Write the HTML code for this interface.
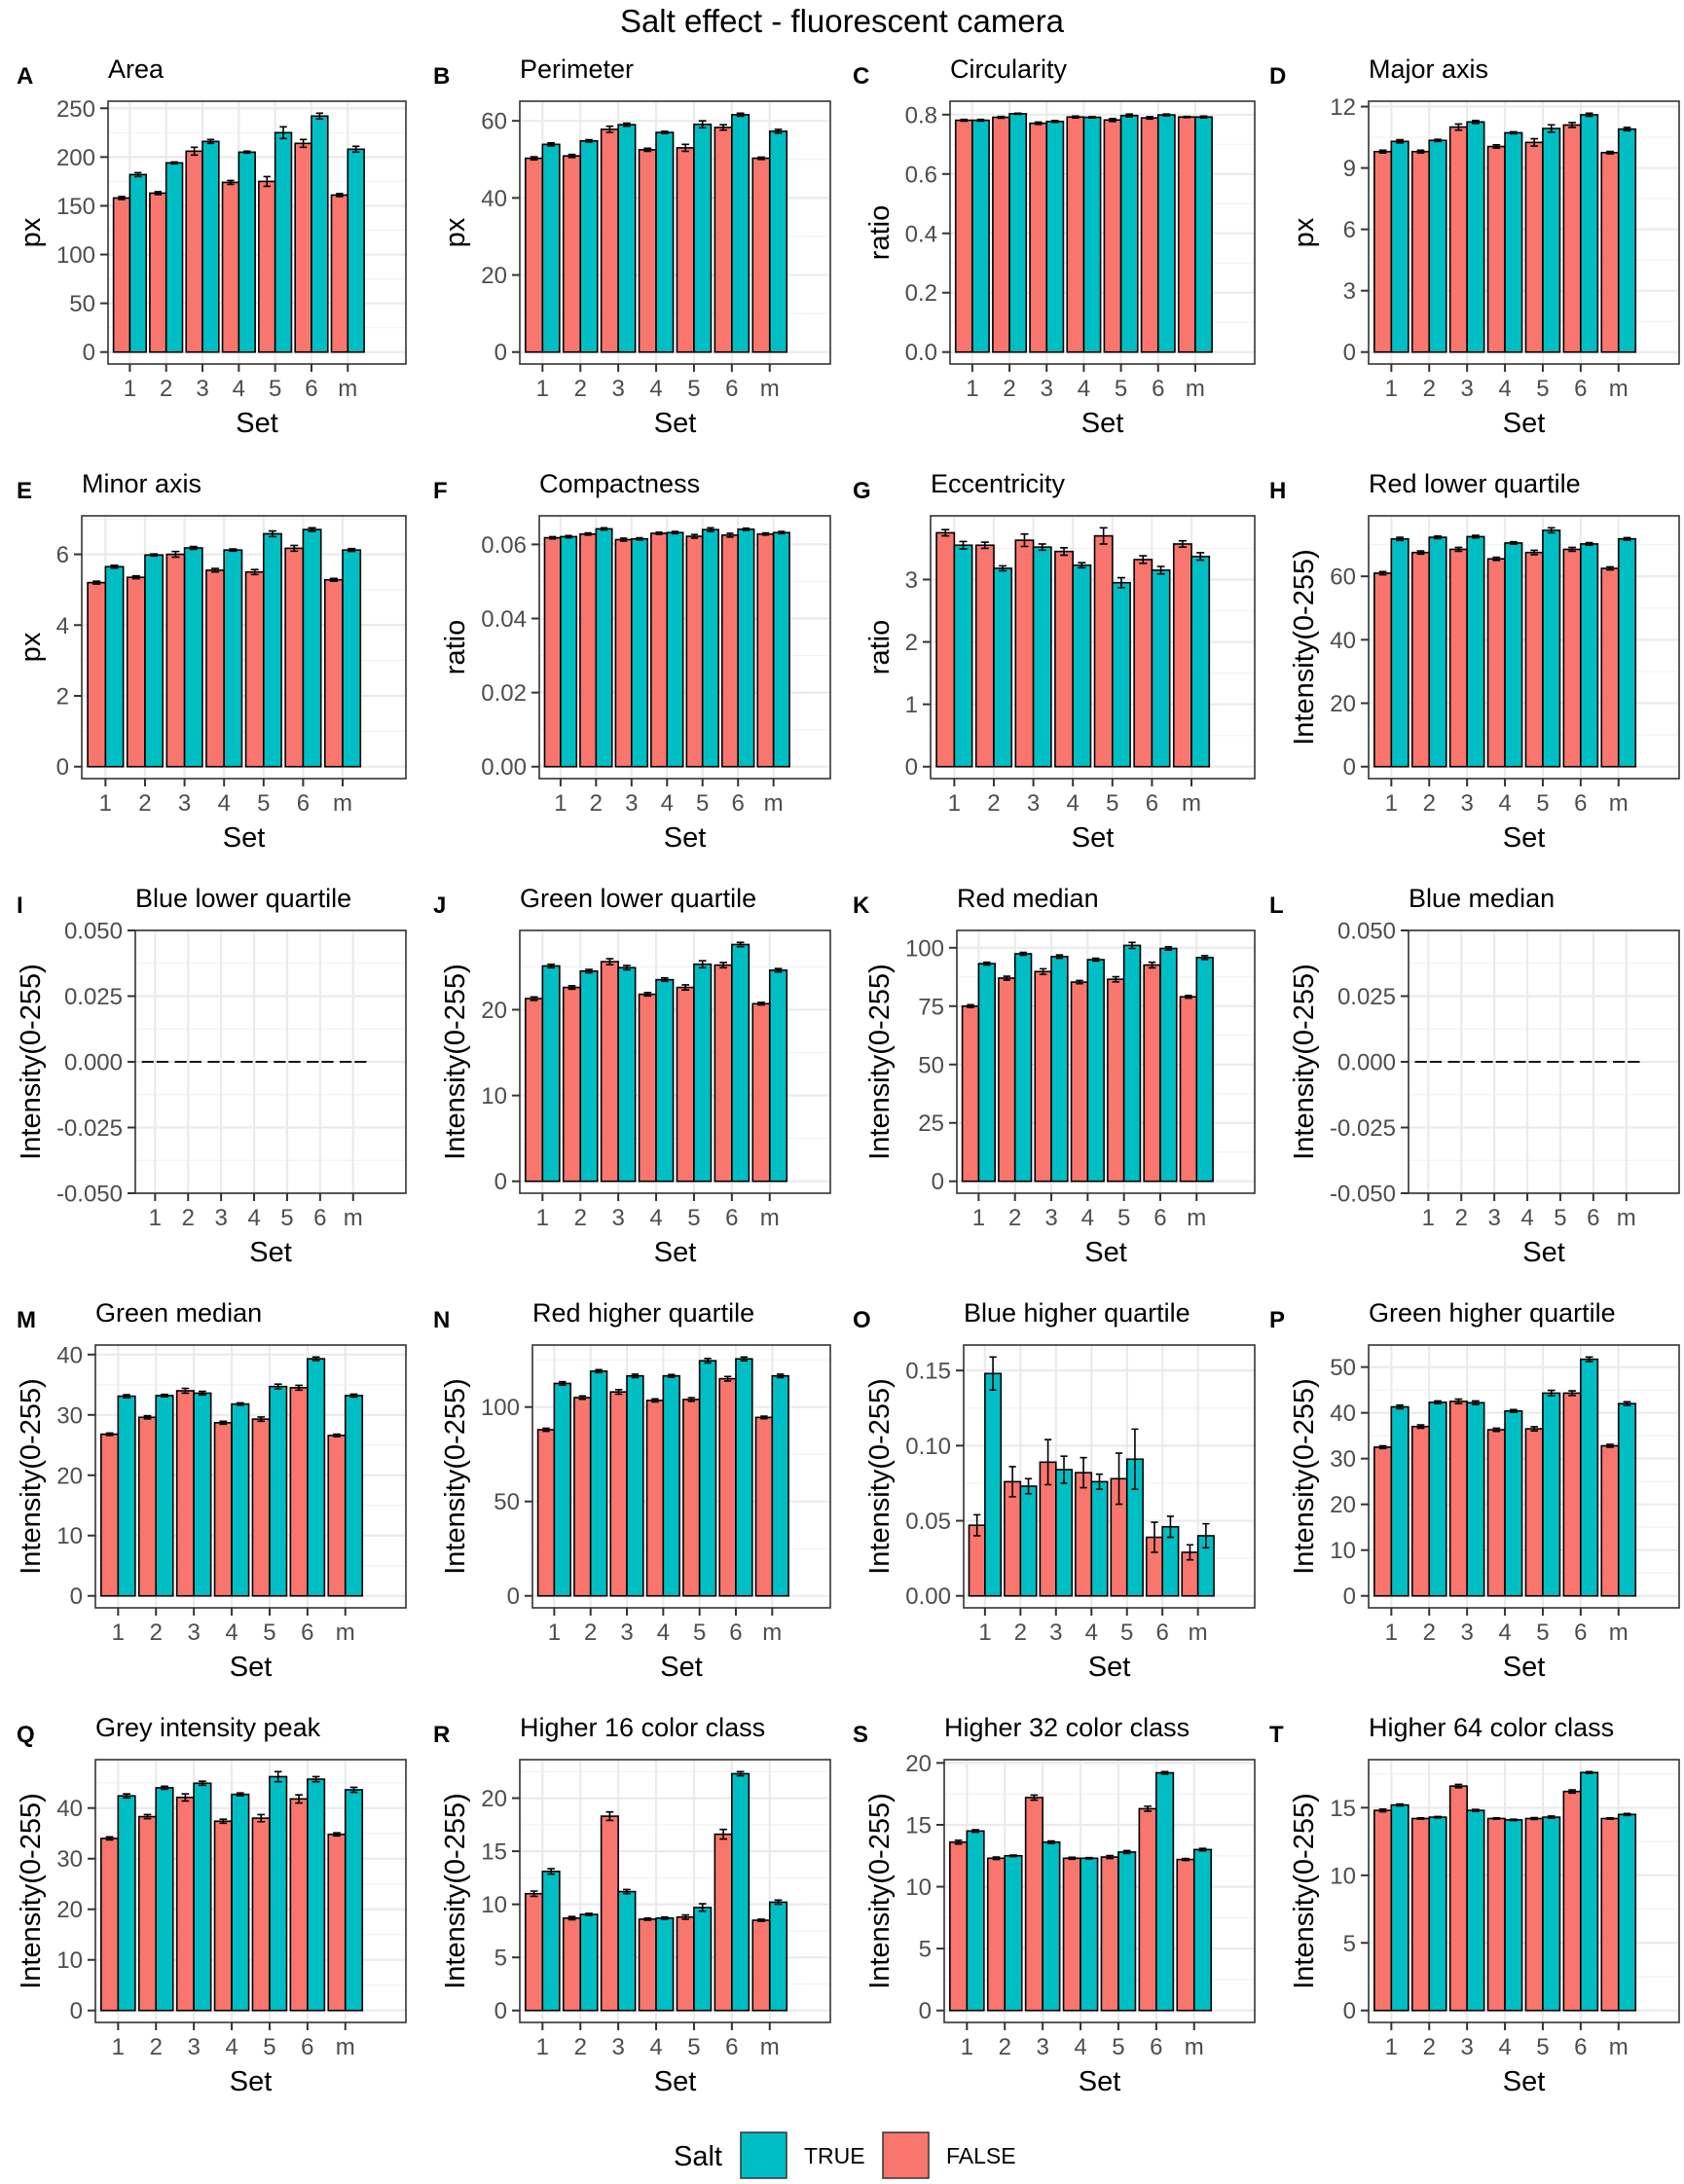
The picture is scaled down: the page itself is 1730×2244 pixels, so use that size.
<!DOCTYPE html>
<html><head><meta charset="utf-8">
<style>
html,body{margin:0;padding:0;background:#fff;}
svg{display:block;font-family:"Liberation Sans",sans-serif;}
</style></head>
<body>
<svg id="fig" width="1730" height="2244" viewBox="0 0 1730 2244" xmlns="http://www.w3.org/2000/svg">
<rect x="0" y="0" width="1730" height="2244" fill="#fff"/>
<text x="865" y="33" font-size="33" text-anchor="middle" fill="#000">Salt effect - fluorescent camera</text>
<g>
<text x="692" y="2225" font-size="29" fill="#000">Salt</text>
<rect x="761" y="2191" width="47" height="47" fill="#00BFC4" stroke="#333" stroke-width="1.5"/>
<text x="826" y="2223" font-size="23" fill="#000">TRUE</text>
<rect x="907" y="2191" width="47" height="47" fill="#F8766D" stroke="#333" stroke-width="1.5"/>
<text x="972" y="2223" font-size="23" fill="#000">FALSE</text>
</g>
</svg>
<script>
const categories = ["1","2","3","4","5","6","m"];
const panelLetters = ["A","B","C","D","E","F","G","H","I","J","K","L","M","N","O","P","Q","R","S","T"];
const panelTitles = ["Area","Perimeter","Circularity","Major axis","Minor axis","Compactness","Eccentricity","Red lower quartile","Blue lower quartile","Green lower quartile","Red median","Blue median","Green median","Red higher quartile","Blue higher quartile","Green higher quartile","Grey intensity peak","Higher 16 color class","Higher 32 color class","Higher 64 color class"];
const yTitles = ["px","px","ratio","px","px","ratio","ratio","Intensity(0-255)","Intensity(0-255)","Intensity(0-255)","Intensity(0-255)","Intensity(0-255)","Intensity(0-255)","Intensity(0-255)","Intensity(0-255)","Intensity(0-255)","Intensity(0-255)","Intensity(0-255)","Intensity(0-255)","Intensity(0-255)"];
const yTicks = [
 [0,50,100,150,200,250],[0,20,40,60],[0,0.2,0.4,0.6,0.8],[0,3,6,9,12],
 [0,2,4,6],[0,0.02,0.04,0.06],[0,1,2,3],[0,20,40,60],
 [-0.05,-0.025,0,0.025,0.05],[0,10,20],[0,25,50,75,100],[-0.05,-0.025,0,0.025,0.05],
 [0,10,20,30,40],[0,50,100],[0,0.05,0.10,0.15],[0,10,20,30,40,50],
 [0,10,20,30,40],[0,5,10,15,20],[0,5,10,15,20],[0,5,10,15]];
const yTickLabels = [
 ["0","50","100","150","200","250"],["0","20","40","60"],["0.0","0.2","0.4","0.6","0.8"],["0","3","6","9","12"],
 ["0","2","4","6"],["0.00","0.02","0.04","0.06"],["0","1","2","3"],["0","20","40","60"],
 ["-0.050","-0.025","0.000","0.025","0.050"],["0","10","20"],["0","25","50","75","100"],["-0.050","-0.025","0.000","0.025","0.050"],
 ["0","10","20","30","40"],["0","50","100"],["0.00","0.05","0.10","0.15"],["0","10","20","30","40","50"],
 ["0","10","20","30","40"],["0","5","10","15","20"],["0","5","10","15","20"],["0","5","10","15"]];
const falseValues = [
 [158,163,206,174,175,214,161],[50.3,50.9,57.8,52.5,53,58.3,50.3],[0.781,0.791,0.771,0.792,0.782,0.789,0.792],[9.8,9.8,11.0,10.05,10.25,11.1,9.75],
 [5.2,5.35,6.0,5.55,5.5,6.17,5.28],[0.0618,0.0628,0.0613,0.063,0.0622,0.0625,0.0628],[3.75,3.55,3.63,3.45,3.7,3.32,3.57],[61,67.5,68.5,65.5,67.5,68.5,62.5],
 [0,0,0,0,0,0,0],[21.3,22.6,25.6,21.8,22.6,25.2,20.7],[75,87,89.8,85.3,86.5,92.6,79],[0,0,0,0,0,0,0],
 [26.8,29.6,34,28.7,29.3,34.5,26.6],[88,105,108,103.5,104,115,94.5],[0.047,0.076,0.089,0.082,0.078,0.039,0.029],[32.5,37,42.5,36.3,36.5,44.3,32.8],
 [34,38.3,42.1,37.4,38,41.8,34.8],[11,8.7,18.3,8.6,8.8,16.6,8.5],[13.6,12.3,17.2,12.3,12.4,16.3,12.2],[14.8,14.2,16.6,14.2,14.2,16.2,14.2]];
const trueValues = [
 [182,194,216,205,225,242,208],[53.9,54.8,59,57,59.1,61.6,57.3],[0.781,0.803,0.777,0.791,0.797,0.799,0.792],[10.3,10.35,11.25,10.72,10.93,11.6,10.9],
 [5.65,5.98,6.18,6.12,6.58,6.7,6.12],[0.0621,0.0642,0.0615,0.0632,0.064,0.0641,0.0632],[3.55,3.18,3.52,3.23,2.95,3.15,3.37],[71.8,72.3,72.5,70.5,74.5,70.2,71.8],
 [0,0,0,0,0,0,0],[25.1,24.5,24.9,23.5,25.3,27.6,24.6],[93.2,97.4,96.2,94.9,101,99.7,95.8],[0,0,0,0,0,0,0],
 [33.1,33.2,33.6,31.8,34.7,39.3,33.2],[112.5,119,116.5,116.5,124.5,125.5,116.5],[0.148,0.073,0.084,0.076,0.091,0.046,0.040],[41.3,42.3,42.2,40.4,44.3,51.7,42],
 [42.4,44,44.9,42.7,46.2,45.7,43.6],[13.1,9.05,11.2,8.7,9.7,22.3,10.2],[14.5,12.5,13.6,12.3,12.8,19.2,13],[15.2,14.3,14.8,14.1,14.3,17.6,14.5]];
const falseErrors = [
 [1.5,1.5,4,2,5,4,1.5],[0.4,0.4,0.8,0.4,0.9,0.7,0.3],[0.003,0.003,0.004,0.003,0.005,0.004,0.002],[0.07,0.07,0.15,0.08,0.18,0.12,0.06],
 [0.04,0.04,0.08,0.05,0.07,0.08,0.04],[0.0003,0.0003,0.0004,0.0003,0.0005,0.0005,0.0003],[0.05,0.05,0.1,0.06,0.13,0.06,0.05],[0.5,0.5,0.6,0.5,0.7,0.6,0.5],
 [0,0,0,0,0,0,0],[0.2,0.2,0.35,0.2,0.3,0.3,0.15],[0.6,0.8,1.2,0.7,1.1,1.2,0.6],[0,0,0,0,0,0,0],
 [0.2,0.25,0.4,0.25,0.35,0.4,0.2],[0.8,0.9,1.2,0.8,1,1.2,0.7],[0.007,0.01,0.015,0.01,0.017,0.01,0.005],[0.3,0.35,0.5,0.35,0.45,0.5,0.3],
 [0.3,0.4,0.7,0.4,0.7,0.8,0.3],[0.25,0.15,0.4,0.1,0.2,0.45,0.1],[0.15,0.1,0.2,0.08,0.12,0.2,0.08],[0.1,0.05,0.12,0.05,0.07,0.12,0.05]];
const trueErrors = [
 [2,1,2,1,6,3,3],[0.4,0.3,0.4,0.3,0.9,0.4,0.5],[0.003,0.002,0.003,0.002,0.005,0.003,0.003],[0.08,0.05,0.07,0.05,0.18,0.08,0.08],
 [0.04,0.03,0.04,0.03,0.08,0.05,0.04],[0.0003,0.0003,0.0003,0.0003,0.0005,0.0003,0.0003],[0.06,0.04,0.05,0.04,0.08,0.06,0.06],[0.5,0.4,0.4,0.4,0.8,0.4,0.4],
 [0,0,0,0,0,0,0],[0.2,0.2,0.25,0.2,0.4,0.25,0.2],[0.6,0.6,0.7,0.6,1.3,0.7,0.8],[0,0,0,0,0,0,0],
 [0.25,0.2,0.3,0.2,0.4,0.3,0.25],[0.9,0.8,0.9,0.7,1.2,1,0.9],[0.011,0.005,0.009,0.005,0.02,0.007,0.008],[0.4,0.3,0.4,0.3,0.6,0.5,0.4],
 [0.4,0.3,0.4,0.3,1,0.5,0.5],[0.25,0.1,0.2,0.1,0.35,0.2,0.2],[0.1,0.06,0.1,0.05,0.12,0.1,0.1],[0.07,0.05,0.07,0.05,0.08,0.07,0.07]];

const NS = "http://www.w3.org/2000/svg";
const svg = document.getElementById("fig");
const colOffsets = [0,436,872,1308];
const letterX = [17,445,876,1304];
const rowTops = [104,530,956,1382,1808];
const BOX_H = 270;
const FALSE_COLOR = "#F8766D", TRUE_COLOR = "#00BFC4";

function mk(tag, attrs, parent) {
  const e = document.createElementNS(NS, tag);
  for (const k in attrs) e.setAttribute(k, attrs[k]);
  (parent || svg).appendChild(e);
  return e;
}
function txt(str, attrs, parent) {
  const e = mk("text", attrs, parent);
  e.textContent = str;
  return e;
}
function slug(s){return s.toLowerCase().replace(/[^a-z0-9]+/g,"-").replace(/^-|-$/g,"");}

for (let p = 0; p < 20; p++) {
  const col = p % 4, row = Math.floor(p / 4);
  const off = colOffsets[col];
  const top = rowTops[row], bottom = top + BOX_H;
  const right = 417 + off;
  const name = slug(panelTitles[p]);
  const g = mk("g", {});
  
  

  // tick labels (measure width)
  const labelLeft = 54 + off;
  const tmpLabels = [];
  let maxW = 0;
  yTickLabels[p].forEach(function(l){
    const t = txt(l, {x:0, y:0, "font-size":24, fill:"#4D4D4D", "text-anchor":"end"}, g);
    
    
    maxW = Math.max(maxW, t.getComputedTextLength());
    tmpLabels.push(t);
  });
  const left = Math.round(labelLeft + maxW + 17);
  const boxW = right - left;

  // y scale
  let dmin, dmax;
  const allF = falseValues[p], allT = trueValues[p];
  let hi = 0, lo = 0;
  for (let i = 0; i < 7; i++) {
    hi = Math.max(hi, allF[i] + falseErrors[p][i], allT[i] + trueErrors[p][i]);
    lo = Math.min(lo, allF[i] - falseErrors[p][i], allT[i] - trueErrors[p][i]);
  }
  if (hi === lo) { dmin = -0.05; dmax = 0.05; }
  else { const r = hi - lo; dmin = lo - 0.05*r; dmax = hi + 0.05*r; }
  const yScale = v => bottom - (v - dmin) / (dmax - dmin) * BOX_H;
  const unit = boxW / 8.2;
  const xScale = i => left + (0.6 + i) * unit;

  // panel background grid
  const ticks = yTicks[p];
  for (let k = 0; k < ticks.length - 1; k++) {
    const mid = (ticks[k] + ticks[k+1]) / 2;
    mk("line", {x1:left, x2:right, y1:yScale(mid), y2:yScale(mid), stroke:"#F2F2F2", "stroke-width":1.2}, g);
  }
  // minor beyond ends
  const stepT = ticks[1]-ticks[0];
  [ticks[0]-stepT/2, ticks[ticks.length-1]+stepT/2].forEach(function(m){
    const yy=yScale(m); if (yy>top && yy<bottom) mk("line",{x1:left,x2:right,y1:yy,y2:yy,stroke:"#F2F2F2","stroke-width":1.2},g);
  });
  ticks.forEach(function(v){
    mk("line", {x1:left, x2:right, y1:yScale(v), y2:yScale(v), stroke:"#EBEBEB", "stroke-width":2.2}, g);
  });
  categories.forEach(function(c,i){
    mk("line", {x1:xScale(i), x2:xScale(i), y1:top, y2:bottom, stroke:"#EBEBEB", "stroke-width":2.2}, g);
  });

  // bars
  const bw = 0.45 * unit;
  const y0 = yScale(0);
  for (let i = 0; i < 7; i++) {
    [[allF[i], falseErrors[p][i], FALSE_COLOR, -1, "false"], [allT[i], trueErrors[p][i], TRUE_COLOR, 0, "true"]].forEach(function(s){
      const v = s[0], e = s[1];
      const x = xScale(i) + s[3]*bw;
      const yv = yScale(v);
      let bar;
      if (Math.abs(yv - y0) < 0.5) {
        bar = mk("line", {x1:x+1.5, x2:x+bw-1.5, y1:y0, y2:y0, stroke:"#000", "stroke-width":1.8}, g);
      } else {
        bar = mk("rect", {x:x, y:Math.min(yv,y0), width:bw, height:Math.abs(y0-yv), fill:s[2], stroke:"#000", "stroke-width":1.6}, g);
      }
      
      
      if (e > 0) {
        const cx = x + bw/2, cw = bw*0.22;
        const eb = mk("path", {d:"M"+(cx-cw)+","+yScale(v+e)+"H"+(cx+cw)+"M"+cx+","+yScale(v+e)+"V"+yScale(v-e)+"M"+(cx-cw)+","+yScale(v-e)+"H"+(cx+cw), stroke:"#000", "stroke-width":1.6, fill:"none"}, g);
        
        
      }
    });
  }

  // border
  const border = mk("rect", {x:left, y:top, width:boxW, height:BOX_H, fill:"none", stroke:"#333", "stroke-width":1.6}, g);
  
  

  // y ticks + labels
  ticks.forEach(function(v,k){
    const yy = yScale(v);
    mk("line", {x1:left-8, x2:left, y1:yy, y2:yy, stroke:"#333", "stroke-width":2}, g);
    const t = tmpLabels[k];
    t.setAttribute("x", left - 13);
    t.setAttribute("y", yy + 8.5);
  });
  // x ticks + labels
  categories.forEach(function(c,i){
    const xx = xScale(i);
    mk("line", {x1:xx, x2:xx, y1:bottom, y2:bottom+8, stroke:"#333", "stroke-width":2}, g);
    const t = txt(c, {x:xx, y:bottom+33, "font-size":24, fill:"#4D4D4D", "text-anchor":"middle"}, g);
    
    
  });
  const xt = txt("Set", {x:(left+right)/2, y:bottom+70, "font-size":29, fill:"#000", "text-anchor":"middle"}, g);
  
  
  const cy = top + BOX_H/2;
  const yt = txt(yTitles[p], {x:0, y:0, "font-size":29, fill:"#000", "text-anchor":"middle", transform:"translate("+(41+off)+","+cy+") rotate(-90)"}, g);
  
  
  const tt = txt(panelTitles[p], {x:left, y:top-24, "font-size":27, fill:"#000"}, g);
  
  
  const lt = txt(panelLetters[p], {x:letterX[col], y:top-18, "font-size":24, "font-weight":"bold", fill:"#000"}, g);
  
  
}
</script>
</body></html>
